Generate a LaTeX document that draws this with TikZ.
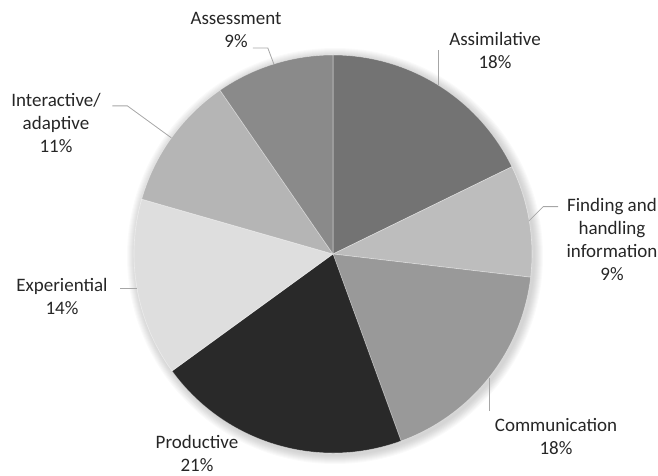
\documentclass[tikz,border=0pt]{standalone}
\usepackage{fontspec}
\setmainfont{Carlito}
\usepackage{xcolor}
\usepackage{tikz}
\usetikzlibrary{positioning}

\definecolor{assimcol}{HTML}{737373}
\definecolor{findcol}{HTML}{BDBDBD}
\definecolor{commcol}{HTML}{999999}
\definecolor{prodcol}{HTML}{292929}
\definecolor{expcol}{HTML}{DEDEDE}
\definecolor{intercol}{HTML}{B5B5B5}
\definecolor{assesscol}{HTML}{8A8A8A}
\definecolor{leadcol}{HTML}{A6A6A6}

\begin{document}
\begin{tikzpicture}[
        x=1pt, y=1pt,
        slice/.style={draw=white, draw opacity=0.45, line width=0.6pt},
        leader/.style={draw=leadcol, line width=0.8pt},
        lbl/.style={align=center, inner sep=0pt, text=black!85,
            font=\fontsize{19}{23}\selectfont}
    ]
        \useasboundingbox (-333,-222) rectangle (325,254);

        % Soft shadow round the pie
        \foreach \r in {9,8,...,1}
            \fill[black, opacity=0.018] (2,-2) circle (199+\r);

        % Slices
        \fill[assimcol, slice] (0,0) -- (90:199) arc[start angle=90, end angle=26, radius=199] -- cycle;
        \fill[findcol, slice] (0,0) -- (26:199) arc[start angle=26, end angle=-6.7, radius=199] -- cycle;
        \fill[commcol, slice] (0,0) -- (-6.7:199) arc[start angle=-6.7, end angle=-70, radius=199] -- cycle;
        \fill[prodcol, slice] (0,0) -- (-70:199) arc[start angle=-70, end angle=-144, radius=199] -- cycle;
        \fill[expcol, slice] (0,0) -- (-144:199) arc[start angle=-144, end angle=-196, radius=199] -- cycle;
        \fill[intercol, slice] (0,0) -- (-196:199) arc[start angle=-196, end angle=-235.4, radius=199] -- cycle;
        \fill[assesscol, slice] (0,0) -- (-235.4:199) arc[start angle=-235.4, end angle=-270, radius=199] -- cycle;

        % Edge points for the leaders
        \coordinate (assim-edge) at (58:199);
        \coordinate (find-edge) at (9.65:199);
        \coordinate (comm-edge) at (-38.4:199);
        \coordinate (exp-edge) at (-170:199);
        \coordinate (inter-edge) at (144.3:199);
        \coordinate (assess-edge) at (107.3:199);

        % Labels
        \node[lbl] (assimilative) at (162,204) {Assimilative\\18\%};
        \node[lbl] (finding) at (279,15) {Finding and\\handling\\information\\9\%};
        \node[lbl] (communication) at (223,-183) {Communication\\18\%};
        \node[lbl] (productive) at (-136,-199) {Productive\\21\%};
        \node[lbl] (experiential) at (-271,-42) {Experiential\\14\%};
        \node[lbl] (interactive) at (-277,131) {Interactive/\\adaptive\\11\%};
        \node[lbl] (assessment) at (-97,224) {Assessment\\9\%};

        % Leaders
        \draw[leader] (assim-edge) -- (assim-edge |- assimilative.west);
        \draw[leader] (find-edge) -- ++(14,14) -- ++(15,0);
        \draw[leader] (comm-edge) -- ++(0,-33);
        \draw[leader] (exp-edge) -- ++(-17,0);
        \draw[leader] (inter-edge) -- ++(-44,32) -- ++(-15,0);
        \draw[leader] (assess-edge) -- ++(-6,16) -- ++(-15,0);
    \end{tikzpicture}
\end{document}
